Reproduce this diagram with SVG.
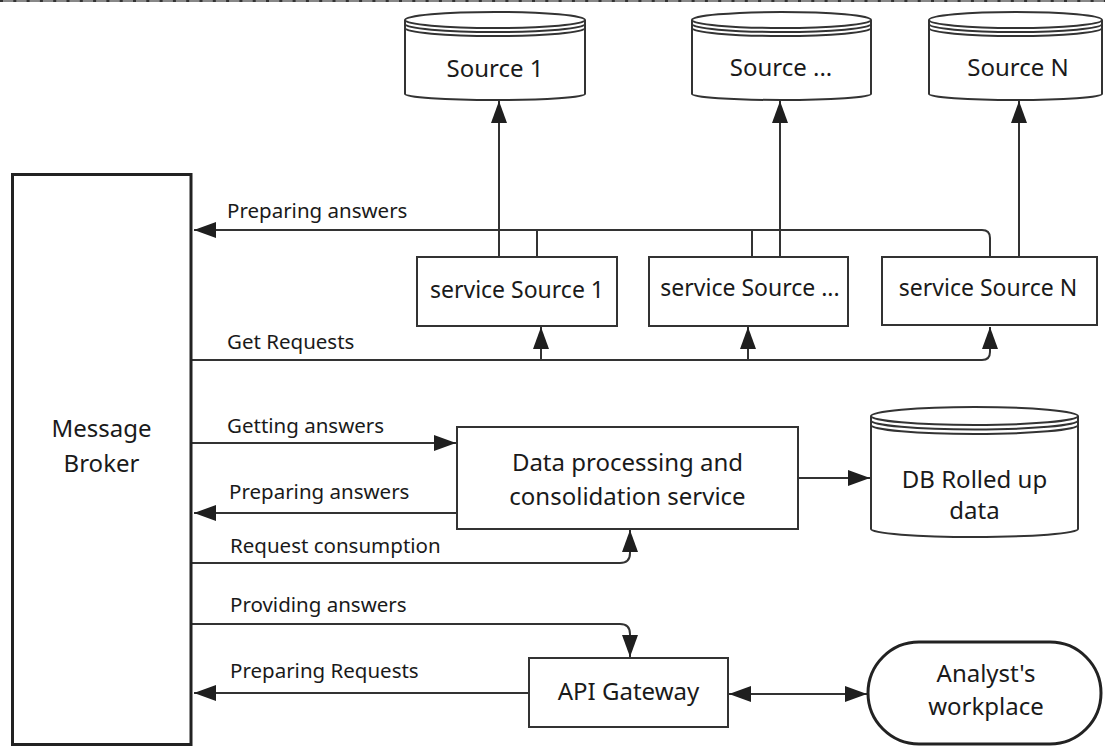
<svg xmlns="http://www.w3.org/2000/svg" width="1105" height="747" viewBox="0 0 1105 747">
<defs>
<marker id="arr" markerUnits="userSpaceOnUse" markerWidth="24" markerHeight="18" refX="22" refY="8" orient="auto-start-reverse">
<path d="M0,0 L22,8 L0,16 z" fill="#1f1f1f"/>
</marker>
<style>
.box{fill:#fff;stroke:#333;stroke-width:2}
.thick{fill:#fff;stroke:#222;stroke-width:3}
.cyl{fill:#fff;stroke:#333;stroke-width:2}
.arc{fill:none;stroke:#333;stroke-width:2}
.ln{fill:none;stroke:#333;stroke-width:2}
.t{font-family:"Noto Sans","Open Sans","DejaVu Sans",sans-serif;fill:#1a1a1a}
.n{font-size:24px;text-anchor:middle}
.s{font-size:23px;text-anchor:middle}
.l{font-size:20.5px}
</style>
</defs>
<rect width="1105" height="747" fill="#fff"/>
<line x1="0" y1="1" x2="1105" y2="1" stroke="#888" stroke-width="2"/>
<line x1="0" y1="1" x2="1105" y2="1" stroke="#333" stroke-width="2" stroke-dasharray="3 10.3"/>

<g id="connectors">
<path class="ln" d="M990 257 V238 Q990 230 982 230 H194" marker-end="url(#arr)"/>
<path class="ln" d="M537 230 V257"/>
<path class="ln" d="M752 230 V257"/>
<path class="ln" d="M499 257 V101" marker-end="url(#arr)"/>
<path class="ln" d="M780 257 V101" marker-end="url(#arr)"/>
<path class="ln" d="M1019 257 V101" marker-end="url(#arr)"/>
<path class="ln" d="M191 360 H982 Q990 360 990 352 V327" marker-end="url(#arr)"/>
<path class="ln" d="M541 360 V327" marker-end="url(#arr)"/>
<path class="ln" d="M748 360 V327" marker-end="url(#arr)"/>
<path class="ln" d="M191 443 H456" marker-end="url(#arr)"/>
<path class="ln" d="M457 513 H194" marker-end="url(#arr)"/>
<path class="ln" d="M191 563 H620 Q630 563 630 553 V530" marker-end="url(#arr)"/>
<path class="ln" d="M798 478 H870" marker-end="url(#arr)"/>
<path class="ln" d="M191 624 H620 Q630 624 630 634 V657" marker-end="url(#arr)"/>
<path class="ln" d="M529 693 H194" marker-end="url(#arr)"/>
<path class="ln" d="M729 694 H867" marker-start="url(#arr)" marker-end="url(#arr)"/>
<text class="t l" x="227" y="218">Preparing answers</text>
<text class="t l" x="227" y="349">Get Requests</text>
<text class="t l" x="227" y="433">Getting answers</text>
<text class="t l" x="229" y="499">Preparing answers</text>
<text class="t l" x="230" y="553">Request consumption</text>
<text class="t l" x="230" y="612">Providing answers</text>
<text class="t l" x="230" y="678">Preparing Requests</text>
</g>

<g id="broker">
<rect class="thick" x="12.5" y="174.5" width="178.5" height="570"/>
<text class="t n" x="101.5" y="437">Message</text>
<text class="t n" x="101.5" y="472">Broker</text>
</g>

<g id="source1">
<path class="cyl" d="M405 20 V94 A90 6 0 0 0 585 94 V20 A90 8 0 0 0 405 20 Z"/>
<path class="arc" d="M405 20 A90 8 0 0 0 585 20 M405 24 A90 8 0 0 0 585 24 M405 28 A90 8 0 0 0 585 28"/>
<text class="t n" x="495" y="77">Source 1</text>
</g>
<g id="sourceDots">
<path class="cyl" d="M692 20 V94 A89.5 6 0 0 0 871 94 V20 A89.5 8 0 0 0 692 20 Z"/>
<path class="arc" d="M692 20 A89.5 8 0 0 0 871 20 M692 24 A89.5 8 0 0 0 871 24 M692 28 A89.5 8 0 0 0 871 28"/>
<text class="t n" x="781" y="76">Source ...</text>
</g>
<g id="sourceN">
<path class="cyl" d="M929 20 V94 A86.5 6 0 0 0 1102 94 V20 A86.5 8 0 0 0 929 20 Z"/>
<path class="arc" d="M929 20 A86.5 8 0 0 0 1102 20 M929 24 A86.5 8 0 0 0 1102 24 M929 28 A86.5 8 0 0 0 1102 28"/>
<text class="t n" x="1018" y="76">Source N</text>
</g>

<g id="svc1">
<rect class="box" x="417" y="257" width="200" height="69"/>
<text class="t s" x="517" y="298">service Source 1</text>
</g>
<g id="svcDots">
<rect class="box" x="649" y="257" width="199" height="69"/>
<text class="t s" x="750" y="296">service Source ...</text>
</g>
<g id="svcN">
<rect class="box" x="882" y="257" width="215" height="68"/>
<text class="t s" x="988" y="296">service Source N</text>
</g>

<g id="dataProcessing">
<rect class="box" x="457" y="427" width="341" height="102"/>
<text class="t n" x="627.5" y="471">Data processing and</text>
<text class="t n" x="627.5" y="505">consolidation service</text>
</g>

<g id="dbRolled">
<path class="cyl" d="M871 416 V529 A103.5 8 0 0 0 1078 529 V416 A103.5 9 0 0 0 871 416 Z"/>
<path class="arc" d="M871 416 A103.5 9 0 0 0 1078 416 M871 420.5 A103.5 9 0 0 0 1078 420.5 M871 425 A103.5 9 0 0 0 1078 425"/>
<text class="t n" x="974.5" y="488">DB Rolled up</text>
<text class="t n" x="974.5" y="519">data</text>
</g>

<g id="apiGateway">
<rect class="box" x="529" y="658" width="199" height="69"/>
<text class="t n" x="628.5" y="700">API Gateway</text>
</g>

<g id="analyst">
<rect class="thick" x="868" y="642" width="233" height="102" rx="51" ry="51"/>
<text class="t n" x="986" y="682">Analyst's</text>
<text class="t n" x="986" y="715">workplace</text>
</g>
</svg>
